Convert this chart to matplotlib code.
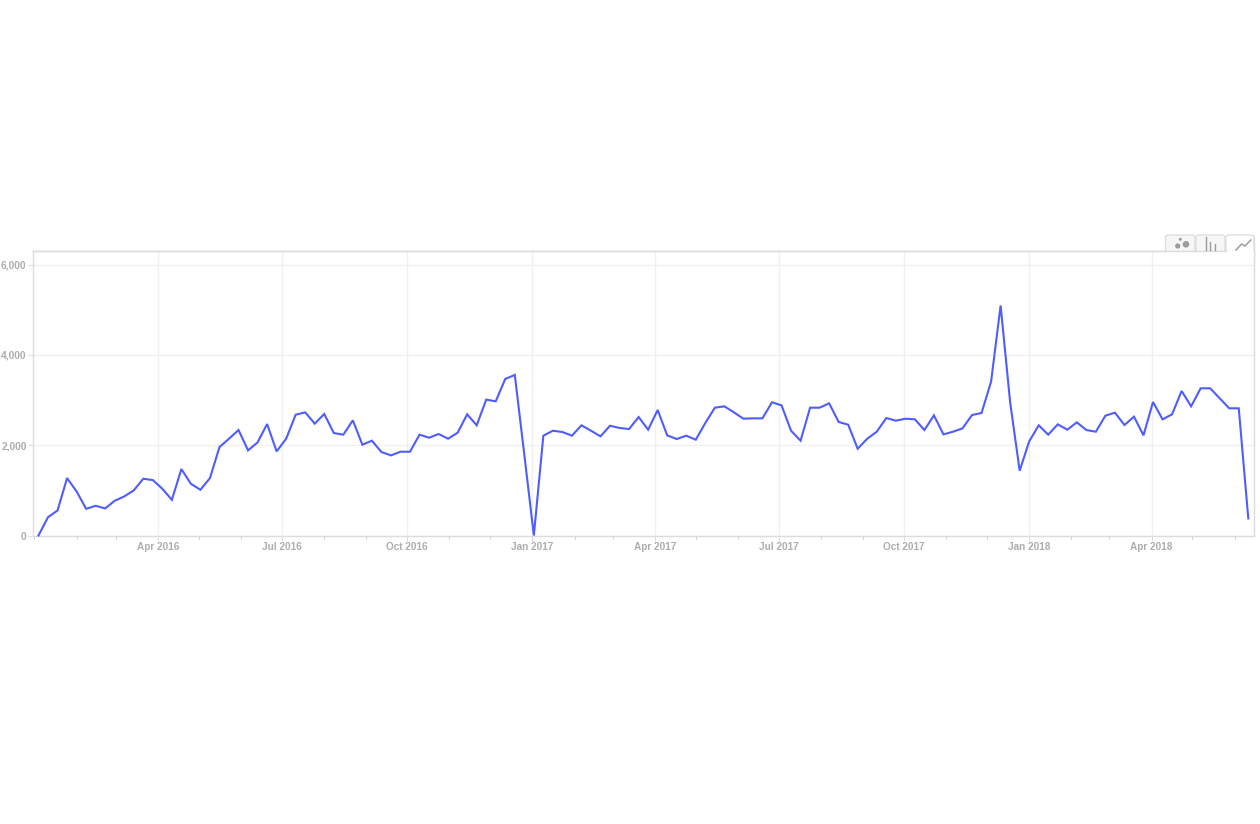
import pandas as pd
import matplotlib
matplotlib.use('Agg')
from matplotlib import pyplot as plt
from matplotlib import dates as mdates
from matplotlib.patches import FancyBboxPatch, Circle, Rectangle
from matplotlib.ticker import FuncFormatter

start_date = '2016-01-04'
values = [
    0, 406, 554, 1271, 975, 591, 658, 599, 769, 865, 998, 1256, 1227, 1035, 790, 1470,
    1145, 1012, 1271, 1958, 2143, 2335, 1884, 2062, 2468, 1862, 2143, 2675, 2727, 2476,
    2690, 2269, 2232, 2550, 2010, 2099, 1848, 1774, 1855, 1855, 2232, 2165, 2247, 2143,
    2276, 2683, 2439, 3008, 2971, 3466, 3555, 1790, 0, 2210, 2320, 2291, 2210, 2439,
    2320, 2195, 2431, 2380, 2357, 2623, 2343, 2779, 2217, 2136, 2210, 2121, 2490, 2830,
    2860, 2727, 2586, 2594, 2594, 2949, 2882, 2320, 2099, 2830, 2830, 2926, 2513, 2453,
    1921, 2143, 2298, 2601, 2542, 2586, 2572, 2335, 2660, 2239, 2298, 2372, 2668, 2712,
    3407, 5092, 2950, 1434, 2084, 2439, 2232, 2461, 2343, 2505, 2335, 2298, 2653, 2720,
    2446, 2631, 2217, 2956, 2572, 2683, 3200, 2860, 3259, 3259, 3037, 2816, 2816, 377,
]
y_ticks = [0, 2000, 4000, 6000]
quarter_ticks = ['2016-04-01', '2016-07-01', '2016-10-01', '2017-01-01', '2017-04-01',
                 '2017-07-01', '2017-10-01', '2018-01-01', '2018-04-01']

W, H = 1260, 824
LINE = '#4f5cff'
GRID = '#f0f0f0'
FRAME = '#dcdcdc'
TEXT = '#adadad'
ICON = '#9c9c9c'

plt.rcParams['font.family'] = ['Liberation Sans', 'DejaVu Sans']

dates = pd.date_range(start_date, periods=len(values), freq='7D')

fig = plt.figure(figsize=(W / 100, H / 100), dpi=100)
ax = fig.add_axes([32.5 / W, 1 - 535.5 / H, (1254 - 32.5) / W, (535.5 - 250.5) / H])
ax.plot(dates, values, color=LINE, lw=1.5, solid_joinstyle='miter', clip_on=False, zorder=3)

ax.set_xlim(dates[0] - pd.Timedelta(days=4.4), dates[-1] + pd.Timedelta(days=4.2))
ax.set_ylim(0, 6310)

ax.set_xticks(pd.to_datetime(quarter_ticks))
ax.xaxis.set_major_formatter(mdates.DateFormatter('%b %Y'))
ax.xaxis.set_minor_locator(mdates.MonthLocator())
ax.set_yticks(y_ticks)
ax.yaxis.set_major_formatter(FuncFormatter(lambda v, p: f'{int(v):,}'))

ax.grid(True, which='major', color=GRID, lw=1.0)
ax.set_axisbelow(True)
for s in ax.spines.values():
    s.set_color(FRAME)
    s.set_linewidth(1.0)
ax.tick_params(axis='x', which='major', length=3.5, width=0.7, color=FRAME, pad=1.2,
               labelsize=7.2, labelcolor=TEXT)
ax.tick_params(axis='x', which='minor', length=2.5, width=0.7, color='#c8c8c8')
ax.tick_params(axis='y', length=3.5, width=0.7, color=FRAME, pad=0.8, labelsize=7.4, labelcolor=TEXT)
for lab in ax.get_xticklabels() + ax.get_yticklabels():
    lab.set_fontweight('bold')
for lab in ax.get_yticklabels():
    lab.set_verticalalignment('center_baseline')

# chart type tabs over the top right corner, drawn in pixel coordinates
ov = fig.add_axes([0, 0, 1, 1])
ov.set_xlim(0, W)
ov.set_ylim(H, 0)
ov.axis('off')
ov.patch.set_alpha(0)
for x0, x1, active in [(1165.5, 1195, False), (1196, 1225, False), (1226, 1254, True)]:
    ov.add_patch(FancyBboxPatch((x0, 235), x1 - x0, 22, boxstyle='round,pad=0,rounding_size=2.5',
                                mutation_scale=1, fc='white' if active else '#f6f6f6', ec=FRAME,
                                lw=0.9, zorder=2))
    ov.add_patch(Rectangle((x0 - 1, 251.1), x1 - x0 + 2, 8, fc='white', ec='none', zorder=3))
    if not active:
        ov.plot([x0 - 1, x1 + 1], [250.8, 250.8], color=FRAME, lw=1.0, zorder=4)
ov.plot([32.5, 1165], [250.8, 250.8], color=FRAME, lw=1.0, zorder=4)
ov.plot([1254, 1254], [238, 260], color=FRAME, lw=1.0, zorder=4)

for cx, cy, r in [(1177.7, 246, 2.6), (1180.3, 239.3, 1.5), (1186, 244.3, 3.3)]:
    ov.add_patch(Circle((cx, cy), r, fc=ICON, ec='none', zorder=5))
for bx, top in [(1206, 237), (1210.3, 241.7), (1215, 244)]:
    ov.plot([bx, bx], [top, 249.5], color=ICON, lw=1.0, zorder=5)
ov.plot([1236, 1241.7, 1245, 1250.7], [250, 244, 246, 240], color=ICON, lw=1.1, zorder=5)

fig.savefig('out.png', dpi=100)
